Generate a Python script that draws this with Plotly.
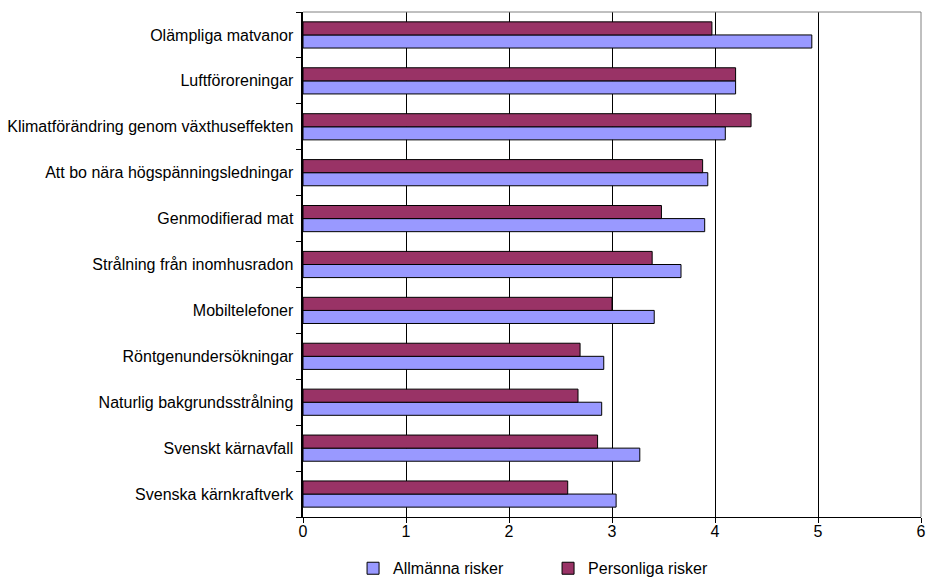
import plotly.graph_objects as go

# Risk categories, listed bottom to top
categories = [
    "Svenska kärnkraftverk",
    "Svenskt kärnavfall",
    "Naturlig bakgrundsstrålning",
    "Röntgenundersökningar",
    "Mobiltelefoner",
    "Strålning från inomhusradon",
    "Genmodifierad mat",
    "Att bo nära högspänningsledningar",
    "Klimatförändring genom växthuseffekten",
    "Luftföroreningar",
    "Olämpliga matvanor",
]

allmanna = [3.04, 3.27, 2.90, 2.92, 3.41, 3.67, 3.90, 3.93, 4.10, 4.20, 4.94]
personliga = [2.57, 2.86, 2.67, 2.69, 3.00, 3.39, 3.48, 3.88, 4.35, 4.20, 3.97]

x_ticks = [0, 1, 2, 3, 4, 5, 6]

font = dict(family="Liberation Sans, Arial, sans-serif", size=16, color="black")

fig = go.Figure()
fig.add_trace(go.Bar(
    y=categories, x=allmanna, orientation="h", name="Allmänna risker",
    marker=dict(color="#9999FF", line=dict(color="black", width=1)),
))
fig.add_trace(go.Bar(
    y=categories, x=personliga, orientation="h", name="Personliga risker",
    marker=dict(color="#993366", line=dict(color="black", width=1)),
))

fig.update_layout(
    width=927, height=577,
    margin=dict(l=303, r=6, t=12, b=60, autoexpand=False),
    paper_bgcolor="white", plot_bgcolor="white",
    barmode="group", bargap=0.43, bargroupgap=0,
    font=font,
    showlegend=True,
    legend=dict(
        orientation="h", x=0.081, xanchor="left", y=-0.068, yanchor="top",
        font=dict(size=16), entrywidth=150, itemwidth=30,
        traceorder="normal",
    ),
    xaxis=dict(
        range=[0, 6], tickvals=x_ticks, ticktext=[str(v) for v in x_ticks],
        showgrid=True, gridcolor="black", gridwidth=1,
        showline=True, linecolor="black", linewidth=1,
        ticks="outside", ticklen=5, tickcolor="black",
        ticklabelstandoff=-5,
        zeroline=False, fixedrange=True,
    ),
    yaxis=dict(
        categoryorder="array", categoryarray=categories,
        showline=True, linecolor="black", linewidth=2,
        ticks="outside", ticklen=5, tickcolor="black", tickson="boundaries",
        showgrid=False, ticksuffix=" ", fixedrange=True,
    ),
    shapes=[
        dict(type="line", xref="paper", yref="paper", x0=0, x1=1, y0=1, y1=1,
             line=dict(color="#808080", width=1)),
        dict(type="line", xref="paper", yref="paper", x0=1, x1=1, y0=0, y1=1,
             line=dict(color="#808080", width=1)),
    ],
)

fig.write_html("out.html")
